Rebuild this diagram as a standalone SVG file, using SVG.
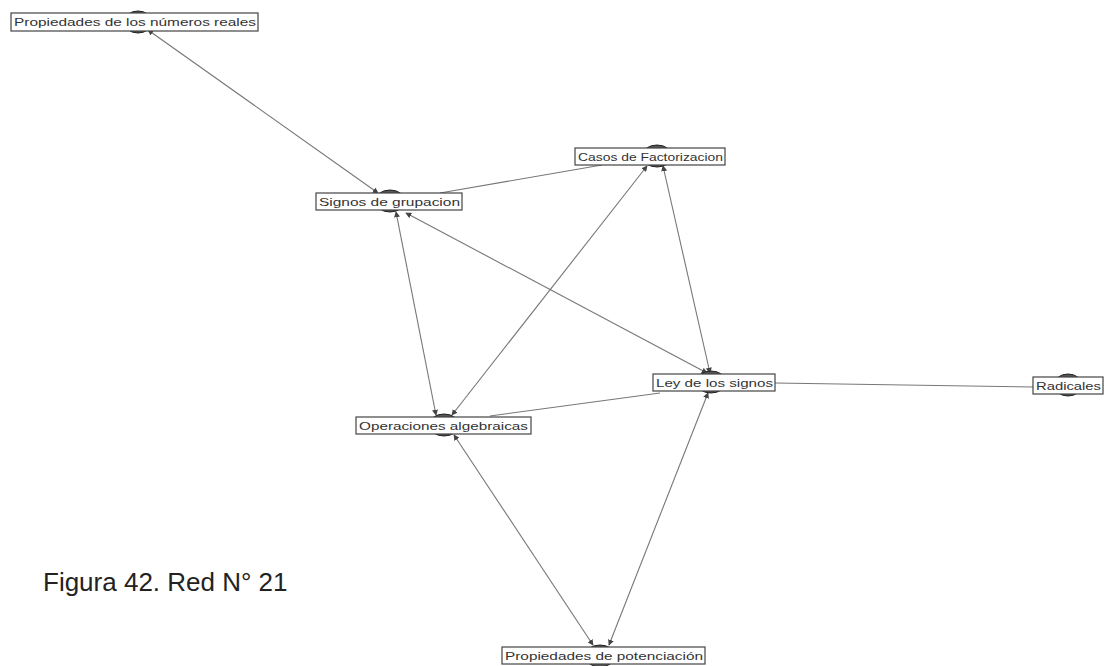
<svg xmlns="http://www.w3.org/2000/svg" width="1104" height="666" viewBox="0 0 1104 666">
<style>
.bg{fill:#ffffff}
.edge{stroke:#777777;stroke-width:1.1;fill:none}
.dot{fill:#555;stroke:#222;stroke-width:1}
.box{fill:#ffffff;stroke:#444;stroke-width:1.2}
.lbl{font-family:"Liberation Sans",Arial,sans-serif;font-size:11px;fill:#333}
.cap{font-family:"Liberation Sans",Arial,sans-serif;font-size:26px;fill:#222}
</style>
<defs>
<marker id="ah" viewBox="0 0 8 8" refX="7" refY="4" markerWidth="6" markerHeight="6" orient="auto-start-reverse" markerUnits="userSpaceOnUse">
<path d="M0,0 L8,4 L0,8 z" fill="#444"/>
</marker>
</defs>
<rect class="bg" x="0" y="0" width="1104" height="666"/>
<g id="connectors">
<line class="edge" x1="148" y1="30" x2="378" y2="193" marker-start="url(#ah)" marker-end="url(#ah)"/>
<line class="edge" x1="440" y1="193" x2="602" y2="165"/>
<line class="edge" x1="396" y1="212" x2="436" y2="415" marker-start="url(#ah)" marker-end="url(#ah)"/>
<line class="edge" x1="406" y1="213" x2="707" y2="373" marker-start="url(#ah)" marker-end="url(#ah)"/>
<line class="edge" x1="647" y1="166" x2="452" y2="415" marker-start="url(#ah)" marker-end="url(#ah)"/>
<line class="edge" x1="663" y1="166" x2="710" y2="373" marker-start="url(#ah)" marker-end="url(#ah)"/>
<line class="edge" x1="660" y1="393" x2="490" y2="416"/>
<line class="edge" x1="775" y1="383" x2="1033" y2="387"/>
<line class="edge" x1="454" y1="435" x2="593" y2="645" marker-start="url(#ah)" marker-end="url(#ah)"/>
<line class="edge" x1="708" y1="393" x2="609" y2="645" marker-start="url(#ah)" marker-end="url(#ah)"/>
</g>
<g id="n-reales">
<ellipse class="dot" cx="138" cy="22" rx="14" ry="11"/>
<rect class="box" x="11" y="13" width="247" height="18"/>
<text class="lbl" x="14" y="26" textLength="242" lengthAdjust="spacingAndGlyphs">Propiedades de los números reales</text>
</g>
<g id="n-signos">
<ellipse class="dot" cx="390" cy="201" rx="15" ry="11"/>
<rect class="box" x="316" y="193" width="146" height="17"/>
<text class="lbl" x="319" y="206" textLength="141" lengthAdjust="spacingAndGlyphs">Signos de grupacion</text>
</g>
<g id="n-casos">
<ellipse class="dot" cx="657" cy="156" rx="15" ry="11"/>
<rect class="box" x="575" y="148" width="150" height="17"/>
<text class="lbl" x="578" y="161" textLength="145" lengthAdjust="spacingAndGlyphs">Casos de Factorizacion</text>
</g>
<g id="n-ley">
<ellipse class="dot" cx="711" cy="382" rx="15" ry="11"/>
<rect class="box" x="653" y="374" width="122" height="17"/>
<text class="lbl" x="656" y="387" textLength="117" lengthAdjust="spacingAndGlyphs">Ley de los signos</text>
</g>
<g id="n-operaciones">
<ellipse class="dot" cx="444" cy="425" rx="15" ry="11"/>
<rect class="box" x="356" y="417" width="175" height="17"/>
<text class="lbl" x="359" y="430" textLength="169" lengthAdjust="spacingAndGlyphs">Operaciones algebraicas</text>
</g>
<g id="n-potenciacion">
<ellipse class="dot" cx="600" cy="656" rx="15" ry="11"/>
<rect class="box" x="502" y="647" width="203" height="17"/>
<text class="lbl" x="505" y="660" textLength="198" lengthAdjust="spacingAndGlyphs">Propiedades de potenciación</text>
</g>
<g id="n-radicales">
<ellipse class="dot" cx="1068" cy="385" rx="14" ry="11"/>
<rect class="box" x="1033" y="377" width="70" height="17"/>
<text class="lbl" x="1036" y="390" textLength="65" lengthAdjust="spacingAndGlyphs">Radicales</text>
</g>
<text class="cap" x="43" y="591">Figura 42. Red N° 21</text>
</svg>
